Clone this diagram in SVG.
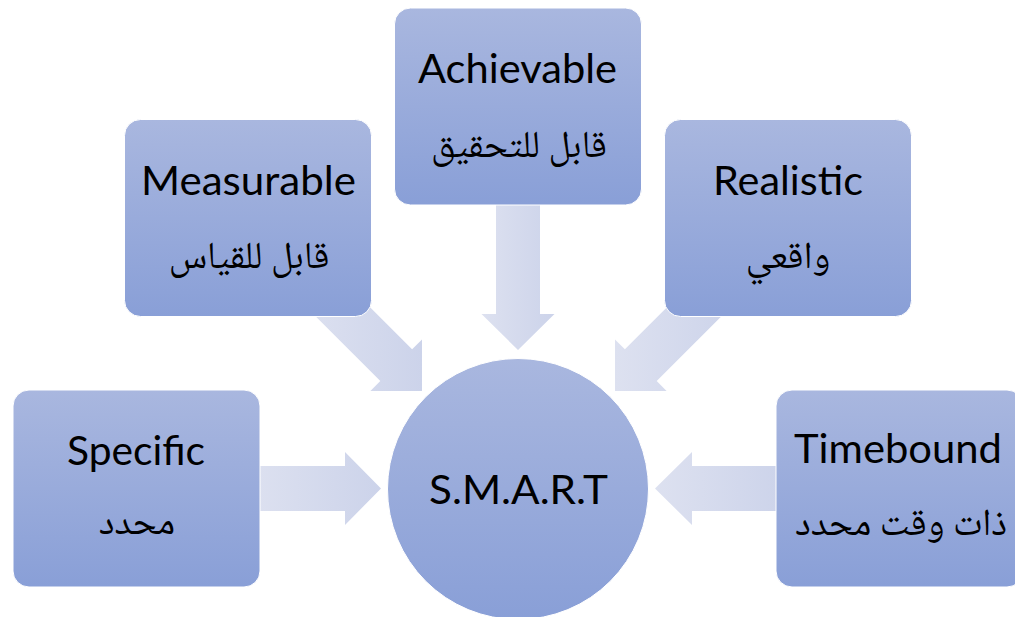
<svg xmlns="http://www.w3.org/2000/svg" width="1015" height="617" viewBox="0 0 1015 617">
<style>
.box{fill:url(#boxGrad);stroke:#ffffff;stroke-width:1}
.arrow{fill:url(#arrGrad)}
.en{font-family:Lato,"Open Sans","Liberation Sans",sans-serif;font-size:40px;fill:#000;text-anchor:middle}
.ar{font-family:"Noto Naskh Arabic","Noto Sans Arabic","DejaVu Sans",sans-serif;font-size:38px;fill:#000;text-anchor:middle}
</style>
<defs>
<linearGradient id="boxGrad" x1="0" y1="0" x2="0" y2="1">
<stop offset="0" stop-color="#a9b7df"/>
<stop offset="1" stop-color="#899fd7"/>
</linearGradient>
<linearGradient id="arrGrad" x1="0" y1="0" x2="1" y2="0">
<stop offset="0" stop-color="#dde1f0"/>
<stop offset="1" stop-color="#ccd3ea"/>
</linearGradient>
</defs>
<rect width="1015" height="617" fill="#ffffff"/>
<g id="connectors">
<polygon class="arrow" points="250,466 345,466 345,452 381,488.5 345,525 345,511 250,511"/>
<polygon class="arrow" points="786,466 692,466 692,452 655,488.5 692,525 692,511 786,511"/>
<polygon class="arrow" points="496,195 540,195 540,314 554.5,314 518,350 481.5,314 496,314"/>
<polygon class="arrow" points="331.8,269 412.1,349.3 422,339.4 422,391 370.4,391 380.3,381.1 300,300.8"/>
<polygon class="arrow" points="705.2,269 624.9,349.3 615,339.4 615,391 666.6,391 656.7,381.1 737,300.8"/>
</g>
<g id="node-specific">
<rect class="box" x="13" y="390" width="247" height="197" rx="16"/>
<text class="en" x="136" y="465" textLength="138" lengthAdjust="spacingAndGlyphs">Specific</text>
<text class="ar" x="137" y="534" direction="rtl">محدد</text>
</g>
<g id="node-measurable">
<rect class="box" x="124.5" y="119.5" width="247" height="197" rx="16"/>
<text class="en" x="248.5" y="195" textLength="215" lengthAdjust="spacingAndGlyphs">Measurable</text>
<text class="ar" x="249" y="268" direction="rtl">قابل للقياس</text>
</g>
<g id="node-achievable">
<rect class="box" x="394.5" y="8" width="247" height="197" rx="16"/>
<text class="en" x="517.5" y="83" textLength="199" lengthAdjust="spacingAndGlyphs">Achievable</text>
<text class="ar" x="519" y="157" direction="rtl">قابل للتحقيق</text>
</g>
<g id="node-realistic">
<rect class="box" x="664.5" y="119.5" width="247" height="197" rx="16"/>
<text class="en" x="788" y="195" textLength="150" lengthAdjust="spacingAndGlyphs">Realistic</text>
<text class="ar" x="788" y="268" direction="rtl">واقعي</text>
</g>
<g id="node-timebound">
<rect class="box" x="776" y="390" width="247" height="197" rx="16"/>
<text class="en" x="898" y="463" textLength="208" lengthAdjust="spacingAndGlyphs">Timebound</text>
<text class="ar" x="901" y="535" direction="rtl">ذات وقت محدد</text>
</g>
<g id="node-smart">
<circle cx="518" cy="489" r="130.5" fill="url(#boxGrad)" stroke="#ffffff" stroke-width="1"/>
<text class="en" x="518.5" y="504" textLength="179" lengthAdjust="spacingAndGlyphs">S.M.A.R.T</text>
</g>
</svg>
